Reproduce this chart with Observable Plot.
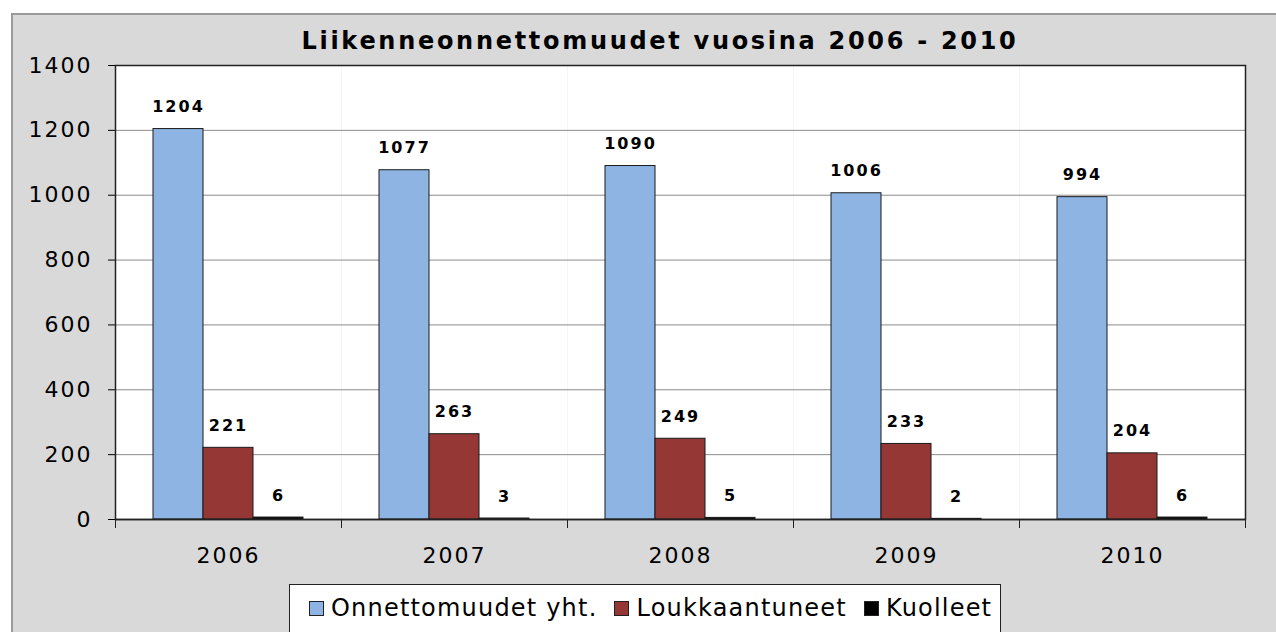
<!DOCTYPE html>
<html>
<head>
<meta charset="utf-8">
<script src="https://cdn.jsdelivr.net/npm/d3@7"></script>
<script src="https://cdn.jsdelivr.net/npm/@observablehq/plot@0.6"></script>
<style>
  html, body { margin: 0; padding: 0; background: #ffffff; width: 1276px; height: 632px; overflow: hidden; position: relative; }
  #panel { position: absolute; left: 11px; top: 13px; width: 1270px; height: 630px; background: #d9d9d9; border-left: 2px solid #9a9a9a; border-top: 2px solid #9a9a9a; box-sizing: border-box; }
  #title { position: absolute; left: 0; width: 1320px; top: 27px; text-align: center; font-family: "DejaVu Sans", Verdana, sans-serif; font-weight: bold; font-size: 24px; letter-spacing: 2.7px; color: #000; }
  #chart { position: absolute; left: 0; top: 0; }
  #legend { position: absolute; left: 289px; top: 584px; width: 712px; height: 60px; background: #fff; border: 1px solid #222; box-sizing: border-box; font-family: "DejaVu Sans", Verdana, sans-serif; font-size: 24px; letter-spacing: 1.2px; color: #000; padding: 9px 0 0 19px; white-space: nowrap; line-height: 28px; }
  .item { display: inline-block; margin-right: 17px; }
  .sw { display: inline-block; width: 13px; height: 13px; border: 1px solid #222; margin-right: 7px; vertical-align: 0px; }
</style>
</head>
<body>
<div id="panel"></div>
<div id="title">Liikenneonnettomuudet vuosina 2006 - 2010</div>
<div id="chart"></div>
<div id="legend"></div>
<script>
const years = ["2006", "2007", "2008", "2009", "2010"];
const seriesNames = ["Onnettomuudet yht.", "Loukkaantuneet", "Kuolleet"];
const onnettomuudet = [1204, 1077, 1090, 1006, 994];
const loukkaantuneet = [221, 263, 249, 233, 204];
const kuolleet = [6, 3, 5, 2, 6];
const yTicks = [0, 200, 400, 600, 800, 1000, 1200, 1400];
const gridTicks = [200, 400, 600, 800, 1000, 1200];
const colors = ["#8db4e2", "#953735", "#000000"];

const valueSets = [onnettomuudet, loukkaantuneet, kuolleet];
const data = [];
years.forEach((yr, i) => {
  seriesNames.forEach((s, j) => {
    data.push({year: yr, series: s, value: valueSets[j][i]});
  });
});

const chart = Plot.plot({
  width: 1276,
  height: 580,
  marginLeft: 115,
  marginRight: 31,
  marginTop: 65,
  marginBottom: 61,
  style: {background: "transparent", fontFamily: "'DejaVu Sans', Verdana, sans-serif", fontSize: "22px", letterSpacing: "2px", color: "#000"},
  fx: {domain: years, padding: 0, axis: "bottom", tickSize: 0, tickPadding: 28, label: null},
  x: {domain: seriesNames, paddingInner: 0, paddingOuter: 0.716, axis: null},
  y: {domain: [0, 1400], ticks: yTicks, tickSize: 7, tickPadding: 16, label: null, tickFormat: d => String(d)},
  color: {domain: seriesNames, range: colors},
  marks: [
    Plot.frame({fill: "white"}),
    Plot.ruleY(gridTicks, {stroke: "#8c8c8c", strokeWidth: 1}),
    Plot.barY(data, {fx: "year", x: "series", y: "value", fill: "series", stroke: "#1a1a1a", strokeWidth: 1}),
    Plot.text(data, {fx: "year", x: "series", y: "value", text: d => String(d.value), dy: -22, fontSize: 16, fontWeight: "bold", fill: "#000", style: "letter-spacing: 3px"}),
    Plot.ruleY([0], {stroke: "#222", strokeWidth: 1.5}),
    Plot.frame({anchor: "left", insetTop: 454, insetBottom: -8, stroke: "#222"}),
    Plot.frame({anchor: "right", insetTop: 454, insetBottom: -8, stroke: "#222"}),
    Plot.frame({facet: "super", stroke: "#222", strokeWidth: 1.5})
  ]
});
document.getElementById("chart").appendChild(chart);

const legend = document.getElementById("legend");
seriesNames.forEach((s, j) => {
  const item = document.createElement("span");
  item.className = "item";
  const sw = document.createElement("span");
  sw.className = "sw";
  sw.style.background = colors[j];
  item.appendChild(sw);
  item.appendChild(document.createTextNode(s));
  legend.appendChild(item);
});
</script>
</body>
</html>
